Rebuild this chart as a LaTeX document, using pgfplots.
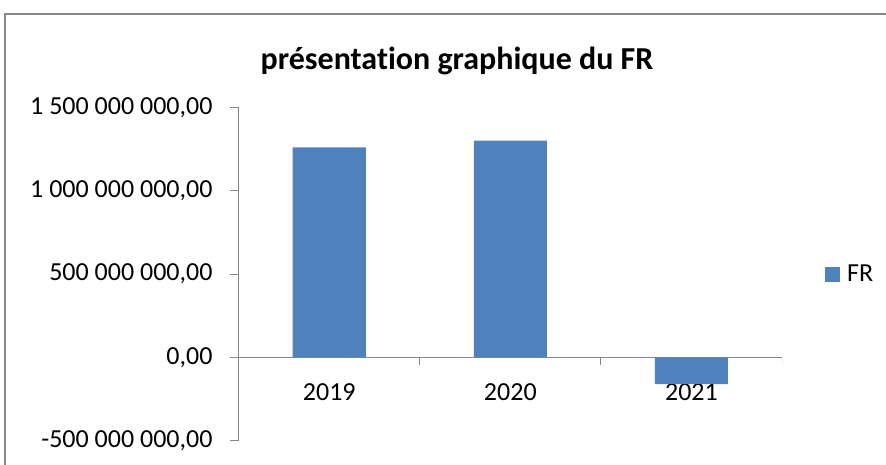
\documentclass[border=0pt]{standalone}
\usepackage{pgfplots}
\pgfplotsset{compat=1.18}
\usepackage{fontspec}
\setmainfont{Carlito}[Ligatures=NoCommon]
\definecolor{barblue}{HTML}{4F81BD}
\definecolor{axgray}{HTML}{868686}
\begin{document}
\begin{tikzpicture}[x=1pt,y=1pt]
\path[use as bounding box] (0,0) rectangle (886,464);
\draw[axgray, line width=1.6pt] (5,-10) -- (5,450) -- (900,450);
\node[font=\fontsize{32}{36}\selectfont\bfseries, anchor=base] at (457,394) {présentation graphique du FR};
\begin{axis}[
  at={(238.7pt,23.3pt)}, anchor=south west,
  scale only axis, width=543.3pt, height=333.4pt,
  ymin=-5e8, ymax=1.5e9, xmin=-0.5, xmax=2.5,
  scaled y ticks=false,
  axis y line=left, axis x line=middle,
  axis line style={axgray, line width=1pt, -},
  ytick={-5e8,0,5e8,1e9,1.5e9},
  yticklabels={{-500 000 000,00},{0,00},{500 000 000,00},{1 000 000 000,00},{1 500 000 000,00}},
  xtick={0,1,2}, xticklabels={2019,2020,2021},
  tick style={axgray, line width=1pt},
  ytick align=outside, major tick length=8.7pt,
  xtick style={draw=none},
  ticklabel style={font=\fontsize{26}{30}\selectfont, text=black},
  yticklabel style={xshift=-14pt},
  xticklabel style={yshift=-18pt},
  legend style={at={(1.0791,0.5)}, anchor=west, draw=none, fill=none, inner sep=0pt,
    font=\fontsize{26}{30}\selectfont},
  legend image code/.code={\fill[barblue] (0pt,-7.5pt) rectangle (15pt,7.5pt);},
]
\addplot[ybar, bar width=73pt, fill=barblue, draw=none] coordinates {(0,1.26e9) (1,1.30e9) (2,-1.6e8)};
\addlegendentry{\hspace{5pt}FR}
\draw[axgray, line width=1pt] (axis cs:-0.5,0) -- ++(0pt,-8pt) (axis cs:0.5,0) -- ++(0pt,-8pt) (axis cs:1.5,0) -- ++(0pt,-8pt) (axis cs:2.5,0) -- ++(0pt,-8pt);
\end{axis}
\end{tikzpicture}
\end{document}
